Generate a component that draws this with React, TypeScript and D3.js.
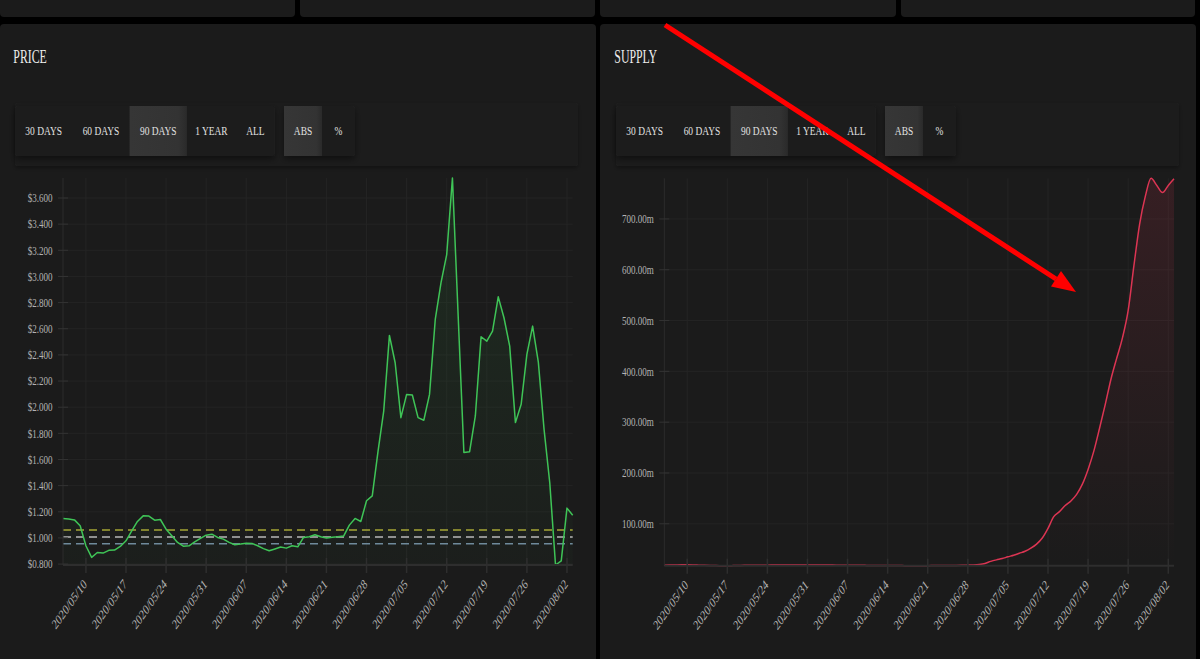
import React from 'react';
import * as d3 from 'd3';

// ---------------- data ----------------
const START_DATE = new Date(2020, 4, 6); // 2020/05/06, daily points
const PRICE_USD = [
  1.149, 1.145, 1.138, 1.093, 0.94, 0.851, 0.889, 0.884, 0.905, 0.907,
  0.935, 0.978, 1.054, 1.126, 1.169, 1.167, 1.136, 1.141, 1.067, 1.016,
  0.966, 0.937, 0.94, 0.97, 0.996, 1.021, 1.029, 1.004, 0.991, 0.966,
  0.948, 0.953, 0.96, 0.958, 0.94, 0.918, 0.902, 0.916, 0.93, 0.922,
  0.94, 0.932, 1.004, 1.009, 1.024, 1.009, 1.0, 1.005, 1.009, 1.014,
  1.098, 1.149, 1.126, 1.284, 1.322, 1.66, 1.97, 2.549, 2.34, 1.92,
  2.098, 2.093, 1.92, 1.9, 2.098, 2.671, 2.951, 3.167, 3.753, 2.7,
  1.653, 1.66, 1.933, 2.539, 2.505, 2.582, 2.844, 2.684, 2.467, 1.882,
  2.022, 2.404, 2.62, 2.345, 1.83, 1.42, 0.793, 0.825, 1.228, 1.174,
];
const SUPPLY_M = [
  18.6, 18.8, 19.0, 19.2, 19.2, 19.0, 18.6, 18.2, 17.9, 17.7,
  17.6, 17.5, 17.7, 18.0, 18.3, 18.5, 18.6, 18.6, 18.6, 18.7,
  18.8, 18.9, 19.0, 19.0, 19.0, 19.0, 19.0, 18.9, 18.8, 18.7,
  18.6, 18.6, 18.5, 18.5, 18.4, 18.2, 18.0, 17.9, 17.8, 17.8,
  17.7, 17.7, 17.6, 17.6, 17.6, 17.6, 17.6, 17.7, 17.8, 17.9,
  18.0, 18.1, 18.3, 18.6, 19.0, 20.0, 22.0, 26.0, 29.0, 31.5,
  35.0, 38.0, 42.0, 46.0, 52.0, 60.0, 72.0, 91.0, 114.0, 124.0,
  136.0, 145.0, 158.0, 178.0, 207.0, 243.0, 288.0, 335.0, 385.0, 426.0,
  466.0, 520.0, 608.0, 690.0, 745.0, 780.0, 766.0, 752.0, 766.0, 779.0,
];
const PRICE_TICKS = [0.8, 1.0, 1.2, 1.4, 1.6, 1.8, 2.0, 2.2, 2.4, 2.6, 2.8, 3.0, 3.2, 3.4, 3.6];
const SUPPLY_TICKS = [100, 200, 300, 400, 500, 600, 700];
const PRICE_REF_LEVELS = [1.06, 1.008, 0.955];
const RANGE_BUTTONS = ['30 DAYS', '60 DAYS', '90 DAYS', '1 YEAR', 'ALL'];
const MODE_BUTTONS = ['ABS', '%'];
const ACTIVE_RANGE = '90 DAYS';
const ACTIVE_MODE = 'ABS';
const PANEL_TITLES = ['PRICE', 'SUPPLY'];

// ---------------- styles ----------------
const FONT = "'Liberation Serif', 'Times New Roman', serif";
const SX = 0.7;
const PANEL_BG = '#1b1b1b';
const GRID = '#242424';
const TICK_TEXT = '#b3b3b3';
const REF_COLORS = ['#a5a535', '#b8b8b8', '#6f8a9b'];

type TProps = {
  x: number; y: number; size: number; fill: string; sx?: number;
  anchor?: 'start' | 'middle' | 'end'; rotate?: number; children: React.ReactNode;
};
function T({ x, y, size, fill, sx = SX, anchor = 'start', rotate, children }: TProps) {
  const tr = `translate(${x},${y}) scale(${sx},1)` + (rotate ? ` rotate(${rotate})` : '');
  return (
    <text transform={tr} fontSize={size} fill={fill} textAnchor={anchor} fontFamily={FONT}>
      {children}
    </text>
  );
}

function Toolbar({ ox }: { ox: number }) {
  const rangeWidths = [57.3, 57.3, 57.3, 49, 39];
  const modeWidths = [38, 33];
  let cx = ox + 15;
  const rangeBtns = RANGE_BUTTONS.map((b, i) => {
    const x0 = cx;
    cx += rangeWidths[i];
    return { label: b, x0, w: rangeWidths[i], active: b === ACTIVE_RANGE };
  });
  let mx = ox + 284;
  const modeBtns = MODE_BUTTONS.map((b, i) => {
    const x0 = mx;
    mx += modeWidths[i];
    return { label: b, x0, w: modeWidths[i], active: b === ACTIVE_MODE };
  });
  const groups = [
    { x0: ox + 15, x1: cx },
    { x0: ox + 284, x1: mx },
  ];
  return (
    <g>
      <rect x={ox + 15} y={103} width={563} height={63} fill="#1d1d1d" rx={2} filter="url(#barShadow)" />
      {groups.map((g, i) => (
        <rect key={i} x={g.x0} y={106} width={g.x1 - g.x0} height={50} fill="#1e1e1e" filter="url(#btnShadow)" rx={2} />
      ))}
      {[...rangeBtns, ...modeBtns].map((b) => (
        <g key={b.label}>
          {b.active && <rect x={b.x0} y={106} width={b.w} height={50} fill="url(#activeGrad)" />}
          <T x={b.x0 + b.w / 2} y={135} size={13.5} fill="#e2e2e2" anchor="middle">{b.label}</T>
        </g>
      ))}
    </g>
  );
}

type ChartProps = {
  ox: number;
  values: number[];
  yTicks: number[];
  fmt: (v: number) => string;
  color: string;
  gradId: string;
  yTop: number;
  yBottom: number;
  curve: d3.CurveFactory;
  refLevels?: number[];
};

function Chart({ ox, values, yTicks, fmt, color, gradId, yTop, yBottom, curve, refLevels }: ChartProps) {
  const dates = values.map((_, i) => d3.timeDay.offset(START_DATE, i));
  const x0 = ox + 63;
  const x1 = ox + 572.7;
  const x = d3.scaleTime().domain([dates[0], dates[dates.length - 1]]).range([x0, x1]);
  const ext = d3.extent(values) as [number, number];
  const y = d3.scaleLinear().domain(ext).range([yBottom, yTop]);
  const line = d3.line<number>().x((_, i) => x(dates[i])).y((d) => y(d)).curve(curve);
  const area = d3.area<number>().x((_, i) => x(dates[i])).y0(yBottom).y1((d) => y(d)).curve(curve);
  const xTicks = x.ticks(d3.timeSunday.every(1) as d3.TimeInterval);
  const dfmt = d3.timeFormat('%Y/%m/%d');
  return (
    <g>
      {xTicks.map((t) => (
        <line key={+t} x1={x(t)} x2={x(t)} y1={yTop} y2={yBottom} stroke={GRID} strokeWidth={1} />
      ))}
      {yTicks.map((t) => (
        <line key={t} x1={x0} x2={x1} y1={y(t)} y2={y(t)} stroke={GRID} strokeWidth={1} />
      ))}
      <path d={area(values) || ''} fill={`url(#${gradId})`} />
      {refLevels && refLevels.map((v, i) => (
        <line key={i} x1={x0} x2={x1} y1={y(v)} y2={y(v)} stroke={REF_COLORS[i]} strokeWidth={1.5} strokeDasharray="8 5" />
      ))}
      <path d={line(values) || ''} fill="none" stroke={color} strokeWidth={1.5} strokeLinejoin="round" />
      <line x1={x0} x2={x0} y1={yTop} y2={yBottom} stroke="#2c2c2c" strokeWidth={1} />
      <line x1={x0} x2={x1} y1={yBottom} y2={yBottom} stroke="#2e2e2e" strokeWidth={2} />
      {yTicks.map((t) => (
        <g key={t}>
          <line x1={x0 - 5} x2={x0 + 5} y1={y(t)} y2={y(t)} stroke="#333" strokeWidth={1} />
          <T x={x0 - 10.5} y={y(t) + 4.3} size={13.5} sx={0.67} fill={TICK_TEXT} anchor="end">{fmt(t)}</T>
        </g>
      ))}
      {xTicks.map((t) => (
        <g key={+t}>
          <line x1={x(t)} x2={x(t)} y1={yBottom - 7} y2={yBottom + 8} stroke="#2e2e2e" strokeWidth={1.5} />
          <T x={x(t) + 1.5} y={yBottom + 20} size={14} fill={TICK_TEXT} anchor="end" rotate={-45}>{dfmt(t)}</T>
        </g>
      ))}
    </g>
  );
}

export default function App() {
  const panelOffsets = [0, 601];
  const topCards = [[0, 295], [300, 595], [600, 896], [901, 1195]];
  return (
    <svg width={1200} height={659} style={{ position: 'absolute', left: 0, top: 0, background: '#000' }}>
      <defs>
        <linearGradient id="gPrice" x1="0" y1="0" x2="0" y2="1">
          <stop offset="0%" stopColor="#3cc454" stopOpacity={0.1} />
          <stop offset="100%" stopColor="#3cc454" stopOpacity={0.02} />
        </linearGradient>
        <linearGradient id="gSupply" x1="0" y1="0" x2="0" y2="1">
          <stop offset="0%" stopColor="#dc3553" stopOpacity={0.14} />
          <stop offset="100%" stopColor="#dc3553" stopOpacity={0.0} />
        </linearGradient>
        <linearGradient id="activeGrad" x1="0" y1="0" x2="1" y2="0">
          <stop offset="0%" stopColor="#363636" />
          <stop offset="85%" stopColor="#333333" />
          <stop offset="100%" stopColor="#2a2a2a" />
        </linearGradient>
        <filter id="btnShadow" x="-10%" y="-20%" width="120%" height="160%">
          <feDropShadow dx={0} dy={3} stdDeviation={3} floodColor="#000" floodOpacity={0.45} />
        </filter>
        <filter id="barShadow" x="-5%" y="-20%" width="110%" height="160%">
          <feDropShadow dx={0} dy={2} stdDeviation={2} floodColor="#000" floodOpacity={0.35} />
        </filter>
      </defs>
      <rect x={0} y={0} width={1200} height={659} fill="#000" />
      {topCards.map(([a, b], i) => (
        <rect key={i} x={a} y={-10} width={b - a} height={27} rx={4} fill={PANEL_BG} />
      ))}
      {panelOffsets.map((ox, i) => (
        <rect key={i} x={ox - (i === 0 ? 0 : 1)} y={24} width={596} height={650} rx={4} fill={PANEL_BG} />
      ))}
      {PANEL_TITLES.map((t, i) => (
        <T key={t} x={panelOffsets[i] + 13.3} y={62.7} size={18.5} sx={0.64} fill="#ececec">{t}</T>
      ))}
      {panelOffsets.map((ox) => (
        <Toolbar key={ox} ox={ox} />
      ))}
      <Chart
        ox={0}
        values={PRICE_USD}
        yTicks={PRICE_TICKS}
        fmt={(v) => '$' + v.toFixed(3)}
        color="#3fc457"
        gradId="gPrice"
        yTop={178}
        yBottom={565}
        curve={d3.curveLinear}
        refLevels={PRICE_REF_LEVELS}
      />
      <Chart
        ox={601.3}
        values={SUPPLY_M}
        yTicks={SUPPLY_TICKS}
        fmt={(v) => v.toFixed(2) + 'm'}
        color="#dc3553"
        gradId="gSupply"
        yTop={178.3}
        yBottom={565.7}
        curve={d3.curveMonotoneX}
      />
      <line x1={665} y1={25} x2={1056} y2={279} stroke="#ff0000" strokeWidth={5} />
      <polygon points="1076,292 1051,286.5 1061,271" fill="#ff0000" />
    </svg>
  );
}
